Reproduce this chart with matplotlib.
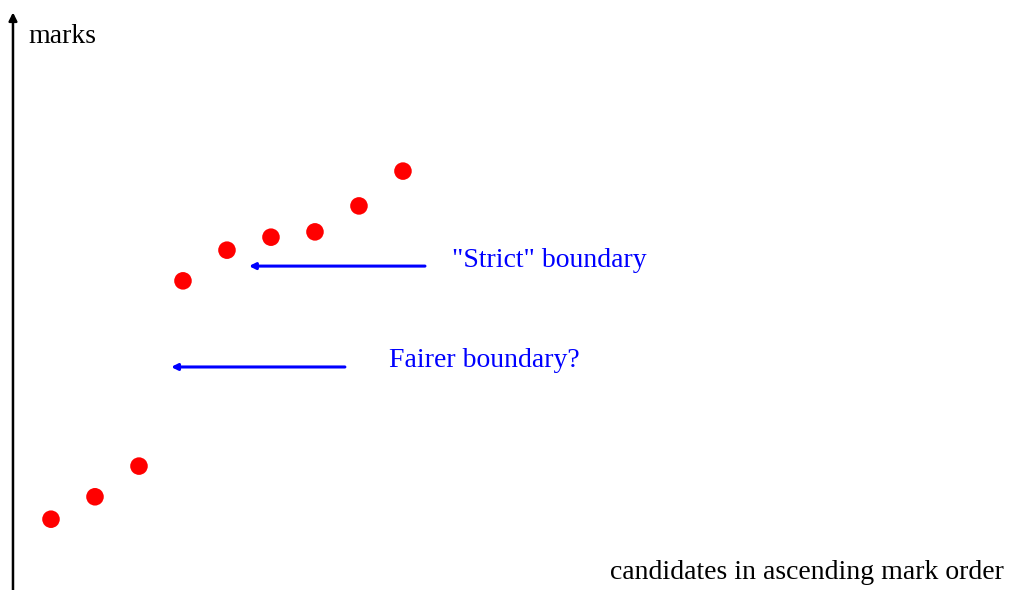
import matplotlib
matplotlib.use("Agg")
import matplotlib.pyplot as plt

# candidates sorted by mark, and their marks (arbitrary units, 0-100)
candidates = [1, 2, 3, 4, 5, 6, 7, 8, 9]
marks = [12.0, 15.8, 21.0, 52.4, 57.6, 59.8, 60.7, 65.1, 71.0]

# boundaries: label and mark level
strict_label = '"Strict" boundary'
strict_level = 54.9
fair_label = "Fairer boundary?"
fair_level = 37.8

plt.rcParams["font.family"] = ["Liberation Serif", "DejaVu Serif"]

fig = plt.figure(figsize=(10.33, 5.9), dpi=100)
ax = fig.add_axes([0, 0, 1, 1])
ax.set_xlim(-0.159, 23.32)
ax.set_ylim(0, 100)
ax.axis("off")

# vertical "marks" axis with arrow
ax.annotate("", xy=(0.136, 97.9), xytext=(0.136, 0),
            arrowprops=dict(arrowstyle="-|>", color="black", lw=1.8,
                            mutation_scale=12, shrinkA=0, shrinkB=0))
ax.text(0.49, 93.8, "marks", fontsize=20, ha="left", va="center")
ax.text(13.7, 2.9, "candidates in ascending mark order", fontsize=20,
        ha="left", va="center")

# the candidates
ax.scatter(candidates, marks, s=160, color="red", edgecolors="none", zorder=3)

# boundary arrows
blue = "#0000ff"
ax.annotate("", xy=(5.5, strict_level), xytext=(9.5, strict_level),
            arrowprops=dict(arrowstyle="-|>", color=blue, lw=2.2,
                            mutation_scale=9, shrinkA=0, shrinkB=0))
ax.text(10.12, 55.9, strict_label, color=blue, fontsize=20,
        ha="left", va="center")

ax.annotate("", xy=(3.73, fair_level), xytext=(7.68, fair_level),
            arrowprops=dict(arrowstyle="-|>", color=blue, lw=2.2,
                            mutation_scale=9, shrinkA=0, shrinkB=0))
ax.text(8.68, 38.9, fair_label, color=blue, fontsize=20,
        ha="left", va="center")

fig.savefig("out.png", dpi=100)
